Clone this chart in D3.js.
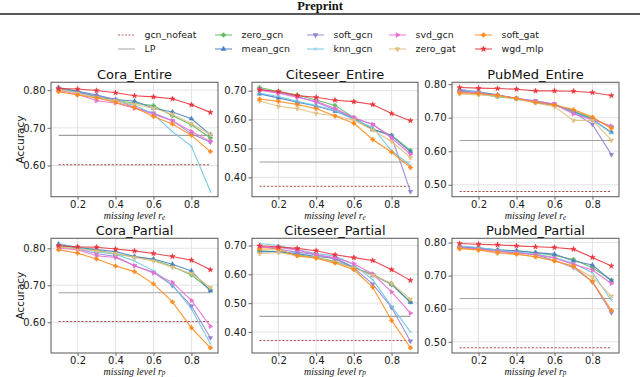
<!DOCTYPE html>
<html><head><meta charset="utf-8">
<script src="https://cdn.jsdelivr.net/npm/d3@7"></script>
<style>body{margin:0;background:#fff}svg{display:block}</style>
</head><body><svg id="c" width="640" height="377"></svg>
<script>
// ---------------- data ----------------
const levels = [0.1,0.2,0.3,0.4,0.5,0.6,0.7,0.8,0.9];
const xTicks = [0.2,0.4,0.6,0.8];
const seriesNames = ["gcn_nofeat","LP","zero_gcn","mean_gcn","soft_gcn","knn_gcn","svd_gcn","zero_gat","soft_gat","wgd_mlp"];
const methods = ["zero_gcn","mean_gcn","soft_gcn","knn_gcn","svd_gcn","zero_gat","soft_gat","wgd_mlp"];
const panelTitles = ["Cora_Entire","Citeseer_Entire","PubMed_Entire","Cora_Partial","Citeseer_Partial","PubMed_Partial"];
const xLabelSub = ["e","e","e","p","p","p"];
const lpValues = [0.680,0.453,0.632,0.680,0.454,0.631];
const nofeatValues = [0.602,0.369,0.480,0.602,0.370,0.482];

const coraEntire = {
  zero_gcn:[0.803,0.797,0.782,0.774,0.765,0.759,0.732,0.708,0.673],
  mean_gcn:[0.807,0.797,0.787,0.775,0.771,0.752,0.742,0.724,0.682],
  soft_gcn:[0.804,0.794,0.785,0.775,0.754,0.739,0.719,0.684,0.662],
  knn_gcn:[0.805,0.793,0.779,0.771,0.760,0.736,0.690,0.651,0.531],
  svd_gcn:[0.800,0.789,0.772,0.766,0.752,0.736,0.719,0.690,0.664],
  zero_gat:[0.802,0.791,0.780,0.772,0.762,0.752,0.736,0.711,0.682],
  soft_gat:[0.796,0.787,0.779,0.768,0.754,0.730,0.710,0.680,0.637],
  wgd_mlp:[0.804,0.803,0.799,0.793,0.785,0.782,0.777,0.761,0.741]
};
const citeseerEntire = {
  zero_gcn:[0.711,0.697,0.685,0.668,0.649,0.606,0.566,0.546,0.493],
  mean_gcn:[0.689,0.675,0.660,0.647,0.629,0.604,0.566,0.544,0.488],
  soft_gcn:[0.706,0.693,0.680,0.660,0.634,0.606,0.583,0.541,0.351],
  knn_gcn:[0.691,0.680,0.663,0.649,0.631,0.600,0.573,0.492,0.441],
  svd_gcn:[0.702,0.691,0.677,0.663,0.638,0.606,0.583,0.536,0.480],
  zero_gat:[0.664,0.646,0.638,0.621,0.613,0.598,0.564,0.524,0.468],
  soft_gat:[0.671,0.663,0.652,0.638,0.612,0.587,0.531,0.487,0.434],
  wgd_mlp:[0.703,0.697,0.683,0.677,0.667,0.662,0.652,0.621,0.596]
};
const pubmedEntire = {
  zero_gcn:[0.780,0.772,0.762,0.757,0.745,0.737,0.720,0.698,0.672],
  mean_gcn:[0.783,0.777,0.768,0.757,0.748,0.739,0.718,0.695,0.657],
  soft_gcn:[0.778,0.773,0.767,0.758,0.750,0.741,0.716,0.680,0.590],
  knn_gcn:[0.785,0.776,0.766,0.755,0.746,0.738,0.715,0.693,0.654],
  svd_gcn:[0.777,0.774,0.766,0.757,0.749,0.740,0.711,0.694,0.675],
  zero_gat:[0.771,0.768,0.764,0.756,0.744,0.733,0.692,0.692,0.633],
  soft_gat:[0.774,0.772,0.767,0.757,0.746,0.738,0.724,0.702,0.668],
  wgd_mlp:[0.790,0.788,0.787,0.785,0.780,0.780,0.779,0.775,0.766]
};
const coraPartial = {
  zero_gcn:[0.807,0.802,0.796,0.784,0.777,0.769,0.751,0.728,0.688],
  mean_gcn:[0.811,0.802,0.797,0.791,0.778,0.771,0.757,0.739,0.685],
  soft_gcn:[0.803,0.798,0.786,0.778,0.753,0.735,0.699,0.644,0.558],
  knn_gcn:[0.813,0.802,0.791,0.784,0.766,0.739,0.701,0.636,0.542],
  svd_gcn:[0.800,0.796,0.780,0.775,0.753,0.733,0.708,0.659,0.589],
  zero_gat:[0.804,0.798,0.793,0.786,0.775,0.766,0.749,0.732,0.694],
  soft_gat:[0.796,0.787,0.771,0.752,0.737,0.704,0.655,0.585,0.531],
  wgd_mlp:[0.807,0.804,0.803,0.798,0.793,0.786,0.778,0.768,0.742]
};
const citeseerPartial = {
  zero_gcn:[0.682,0.679,0.668,0.658,0.645,0.622,0.601,0.564,0.504],
  mean_gcn:[0.679,0.679,0.672,0.662,0.656,0.625,0.596,0.567,0.503],
  soft_gcn:[0.697,0.687,0.677,0.668,0.653,0.622,0.566,0.485,0.368],
  knn_gcn:[0.707,0.700,0.685,0.672,0.664,0.633,0.581,0.489,0.400],
  svd_gcn:[0.693,0.693,0.685,0.668,0.658,0.637,0.601,0.539,0.465],
  zero_gat:[0.672,0.676,0.664,0.658,0.642,0.622,0.596,0.569,0.514],
  soft_gat:[0.688,0.688,0.664,0.656,0.639,0.616,0.555,0.440,0.345],
  wgd_mlp:[0.699,0.695,0.690,0.682,0.668,0.658,0.648,0.616,0.579]
};
const pubmedPartial = {
  zero_gcn:[0.785,0.782,0.777,0.775,0.769,0.761,0.749,0.724,0.687],
  mean_gcn:[0.787,0.783,0.778,0.775,0.770,0.765,0.744,0.732,0.684],
  soft_gcn:[0.785,0.782,0.775,0.770,0.763,0.746,0.724,0.681,0.588],
  knn_gcn:[0.790,0.785,0.777,0.772,0.765,0.755,0.737,0.709,0.625],
  svd_gcn:[0.785,0.780,0.773,0.769,0.763,0.753,0.734,0.717,0.676],
  zero_gat:[0.781,0.777,0.767,0.765,0.757,0.746,0.726,0.696,0.638],
  soft_gat:[0.782,0.778,0.770,0.765,0.757,0.744,0.729,0.682,0.595],
  wgd_mlp:[0.797,0.795,0.793,0.790,0.787,0.785,0.780,0.755,0.729]
};
const panelData = [coraEntire, citeseerEntire, pubmedEntire, coraPartial, citeseerPartial, pubmedPartial];

// ---------------- style ----------------
const colors = {
  gcn_nofeat:"#a8524a", LP:"#a0a0a0", zero_gcn:"#5cb85c", mean_gcn:"#4a7fc0",
  soft_gcn:"#9384d2", knn_gcn:"#6cc4e0", svd_gcn:"#e86ed0", zero_gat:"#e0c080",
  soft_gat:"#ff8a1c", wgd_mlp:"#e8343c"
};
const symbols = {
  zero_gcn:d3.symbolCross, mean_gcn:d3.symbolTriangle, soft_gcn:d3.symbolTriangle,
  knn_gcn:d3.symbolX, svd_gcn:d3.symbolTriangle, zero_gat:d3.symbolWye,
  soft_gat:d3.symbolCross, wgd_mlp:d3.symbolStar
};
const symRot = {soft_gcn:180, svd_gcn:90};

const svg = d3.select("#c");
const font = "DejaVu Sans, sans-serif";

// header
svg.append("text").attr("x",320).attr("y",9.5).attr("text-anchor","middle")
  .attr("font-family","Liberation Serif, serif").attr("font-weight","bold").attr("font-size",12.5)
  .attr("fill","#111").text("Preprint");
svg.append("line").attr("x1",0).attr("x2",640).attr("y1",14).attr("y2",14)
  .attr("stroke","#222").attr("stroke-width",1.6);

// legend
const legCols = [118,215,307,389,475];
const legRows = [35,49];
seriesNames.forEach((name,i)=>{
  const col = Math.floor(i/2), row = i%2;
  const g = svg.append("g").attr("transform",`translate(${legCols[col]},${legRows[row]})`);
  const ln = g.append("line").attr("x1",0).attr("x2",17).attr("y1",0).attr("y2",0)
    .attr("stroke",colors[name]).attr("stroke-width",1.1).attr("opacity",0.85);
  if (name==="gcn_nofeat") ln.attr("stroke-dasharray","2,1.5");
  if (symbols[name]) {
    g.append("path").attr("d",d3.symbol(symbols[name],10)())
      .attr("transform",`translate(8.5,0) rotate(${symRot[name]||0})`)
      .attr("fill",colors[name]).attr("stroke",colors[name]).attr("stroke-width",0.6);
  }
  g.append("text").attr("x",26.5).attr("y",0).attr("dy","0.35em")
    .attr("font-family",font).attr("font-size",9.4).attr("fill","#222").text(name);
});

// panels
const colX = [[51,218],[252,418],[452,619]];
const rowY = [[82.3,196.7],[238.3,353]];
const xLabelOffset = [22.2, 21.5];

panelData.forEach((data,p)=>{
  const c = p%3, r = Math.floor(p/3);
  const [x0,x1] = colX[c], [y0,y1] = rowY[r];
  const all = methods.flatMap(m=>data[m]).concat([lpValues[p], nofeatValues[p]]);
  const lo = d3.min(all), hi = d3.max(all), pad = (hi-lo)*0.05;
  const x = d3.scaleLinear().domain([0.06,0.94]).range([x0,x1]);
  const y = d3.scaleLinear().domain([lo-pad, hi+pad]).range([y1,y0]);
  const yt = d3.range(Math.ceil((lo-pad)*10-1e-9), Math.floor((hi+pad)*10+1e-9)+1).map(v=>v/10);
  const g = svg.append("g");

  // grid
  g.append("g").selectAll("line").data(xTicks).join("line")
    .attr("x1",d=>x(d)).attr("x2",d=>x(d)).attr("y1",y0).attr("y2",y1)
    .attr("stroke","#e4e4e4").attr("stroke-width",1);
  g.append("g").selectAll("line").data(yt).join("line")
    .attr("x1",x0).attr("x2",x1).attr("y1",d=>y(d)).attr("y2",d=>y(d))
    .attr("stroke","#e4e4e4").attr("stroke-width",1);

  // axes
  const ax = g.append("g").attr("transform",`translate(0,${y1})`)
    .call(d3.axisBottom(x).tickValues(xTicks).tickFormat(d3.format(".1f")).tickSize(3).tickPadding(r===0?1.5:0.5));
  const ay = g.append("g").attr("transform",`translate(${x0},0)`)
    .call(d3.axisLeft(y).tickValues(yt).tickFormat(d3.format(".2f")).tickSize(3.5).tickPadding(2));
  [ax,ay].forEach(a=>{
    a.select(".domain").remove();
    a.selectAll("line").attr("stroke","#444").attr("stroke-width",0.8);
    a.selectAll("text").attr("font-family",font).attr("font-size",10).attr("fill","#1a1a1a");
  });

  const clip = "clip"+p;
  g.append("clipPath").attr("id",clip).append("rect")
    .attr("x",x0).attr("y",y0).attr("width",x1-x0).attr("height",y1-y0);
  const pg = g.append("g").attr("clip-path",`url(#${clip})`);

  // baselines
  pg.append("line").attr("x1",x(levels[0])).attr("x2",x(levels[levels.length-1]))
    .attr("y1",y(nofeatValues[p])).attr("y2",y(nofeatValues[p]))
    .attr("stroke",colors.gcn_nofeat).attr("stroke-width",1).attr("stroke-dasharray","2.2,1.6");
  pg.append("line").attr("x1",x(levels[0])).attr("x2",x(levels[levels.length-1]))
    .attr("y1",y(lpValues[p])).attr("y2",y(lpValues[p]))
    .attr("stroke",colors.LP).attr("stroke-width",1.1);

  const line = d3.line().x((d,i)=>x(levels[i])).y(d=>y(d));
  methods.forEach(m=>{
    pg.append("path").attr("d",line(data[m])).attr("fill","none")
      .attr("stroke",colors[m]).attr("stroke-width",1.1).attr("opacity",0.9);
    pg.append("g").selectAll("path").data(data[m]).join("path")
      .attr("d",d3.symbol(symbols[m],9)())
      .attr("transform",(d,i)=>`translate(${x(levels[i])},${y(d)}) rotate(${symRot[m]||0})`)
      .attr("fill",colors[m]).attr("stroke",colors[m]).attr("stroke-width",0.5);
  });

  // frame
  g.append("rect").attr("x",x0).attr("y",y0).attr("width",x1-x0).attr("height",y1-y0)
    .attr("fill","none").attr("stroke","#666").attr("stroke-width",1.1);

  // title
  g.append("text").attr("x",(x0+x1)/2).attr("y",y0-3).attr("text-anchor","middle")
    .attr("font-family",font).attr("font-size",13).attr("fill","#111").text(panelTitles[p]);

  // x label
  const xl = g.append("text").attr("x",(x0+x1)/2).attr("y",y1+xLabelOffset[r]).attr("text-anchor","middle")
    .attr("font-family","Liberation Serif, serif").attr("font-style","italic").attr("font-size",10)
    .attr("fill","#111");
  xl.append("tspan").text("missing level r");
  xl.append("tspan").attr("font-size",7.2).attr("dy",0.6).text(xLabelSub[p]);

  if (c===0) {
    g.append("text").attr("transform",`translate(23.5,${(y0+y1)/2}) rotate(-90)`)
      .attr("text-anchor","middle").attr("font-family",font).attr("font-size",10.5)
      .attr("fill","#111").text("Accuracy");
  }
});
</script></body></html>
